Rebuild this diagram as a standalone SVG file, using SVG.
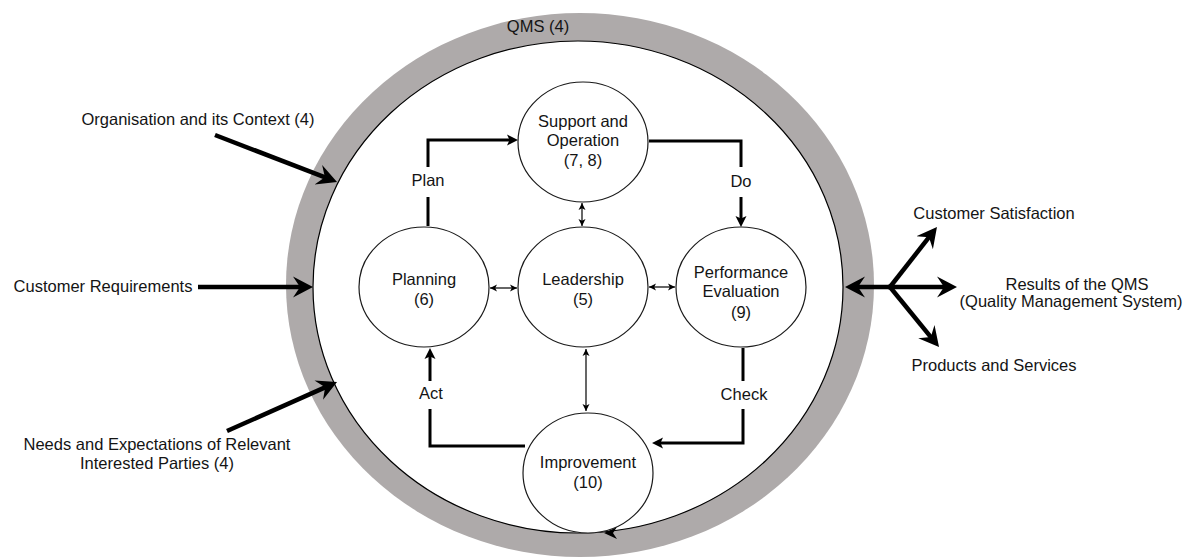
<svg xmlns="http://www.w3.org/2000/svg" width="1191" height="559" viewBox="0 0 1191 559">
  <style>
    text { font-family: "Liberation Sans", Arial, sans-serif; font-size: 16.5px; fill: #141414; text-anchor: middle; }
    .node { fill: #ffffff; stroke: #1a1a1a; stroke-width: 1.2; }
    .thick { fill: none; stroke: #000; stroke-width: 4.5; }
    .pdca { fill: none; stroke: #000; stroke-width: 3; }
    .thin { fill: none; stroke: #000; stroke-width: 1.2; }
  </style>
  <defs>
    <marker id="bigHead" markerUnits="userSpaceOnUse" markerWidth="22" markerHeight="24" refX="10" refY="12" orient="auto">
      <path d="M20,12 L0,1.5 L7,12 L0,22.5 Z" fill="#000"/>
    </marker>
    <marker id="midHead" markerUnits="userSpaceOnUse" markerWidth="14" markerHeight="12" refX="6" refY="6" orient="auto">
      <path d="M12,6 L1,0.5 L3.5,6 L1,11.5 Z" fill="#000"/>
    </marker>
    <marker id="smallHead" markerUnits="userSpaceOnUse" markerWidth="9" markerHeight="8" refX="7" refY="4" orient="auto-start-reverse">
      <path d="M7,4 L0,0.5 L1.8,4 L0,7.5 Z" fill="#000"/>
    </marker>
  </defs>

  <!-- QMS boundary ring -->
  <g id="qms">
    <ellipse cx="580" cy="285" rx="294" ry="272" fill="#aeaaaa"/>
    <ellipse cx="578" cy="287" rx="265" ry="246" fill="#ffffff" stroke="#000" stroke-width="1.2"/>
    <polygon points="604,533 617,527 613,533 617,539" fill="#000"/>
    <text x="538" y="32">QMS (4)</text>
  </g>

  <!-- Inputs and outputs -->
  <g id="input-context"><text x="198" y="125">Organisation and its Context (4)</text></g>
  <g id="input-requirements"><text x="103" y="292">Customer Requirements</text></g>
  <g id="input-parties">
    <text x="157" y="450">Needs and Expectations of Relevant</text>
    <text x="157" y="469">Interested Parties (4)</text>
  </g>
  <g id="output-satisfaction"><text x="994" y="219">Customer Satisfaction</text></g>
  <g id="output-results">
    <text x="1077" y="290">Results of the QMS</text>
    <text x="1071" y="307">(Quality Management System)</text>
  </g>
  <g id="output-products"><text x="994" y="371">Products and Services</text></g>

  <!-- PDCA nodes -->
  <g id="support">
    <ellipse class="node" cx="583" cy="142" rx="65" ry="60"/>
    <text x="583" y="127">Support and</text>
    <text x="583" y="146">Operation</text>
    <text x="583" y="166">(7, 8)</text>
  </g>
  <g id="planning">
    <ellipse class="node" cx="424" cy="287" rx="65" ry="60"/>
    <text x="424" y="285">Planning</text>
    <text x="424" y="305">(6)</text>
  </g>
  <g id="leadership">
    <ellipse class="node" cx="583" cy="287" rx="65" ry="60"/>
    <text x="583" y="285">Leadership</text>
    <text x="583" y="305">(5)</text>
  </g>
  <g id="performance">
    <ellipse class="node" cx="741" cy="287" rx="65" ry="60"/>
    <text x="741" y="278">Performance</text>
    <text x="741" y="297">Evaluation</text>
    <text x="741" y="318">(9)</text>
  </g>
  <g id="improvement">
    <ellipse class="node" cx="588" cy="473" rx="65" ry="60"/>
    <text x="588" y="468">Improvement</text>
    <text x="588" y="488">(10)</text>
  </g>

  <!-- Connectors -->
  <g id="connectors">
    <path class="thick" d="M215,135 L327.7,178.4" marker-end="url(#bigHead)"/>
    <path class="thick" d="M198,287 L303,287" marker-end="url(#bigHead)"/>
    <path class="thick" d="M227,431 L327.9,386.1" marker-end="url(#bigHead)"/>
    <path class="thick" d="M890,287 L855,287" marker-end="url(#bigHead)"/>
    <path class="thick" d="M888,287 L947,287" marker-end="url(#bigHead)"/>
    <path class="thick" d="M890,287 L930.8,234.9" marker-end="url(#bigHead)"/>
    <path class="thick" d="M890,287 L932.7,339.3" marker-end="url(#bigHead)"/>

    <path class="pdca" d="M428,226 V197"/>
    <path class="pdca" d="M428,167 V140 H512" marker-end="url(#midHead)"/>
    <path class="pdca" d="M649,141 H741 V167"/>
    <path class="pdca" d="M741,197 V221" marker-end="url(#midHead)"/>
    <path class="pdca" d="M743,348 V381"/>
    <path class="pdca" d="M743,409 V443 H658" marker-end="url(#midHead)"/>
    <path class="pdca" d="M525,446 H430 V409"/>
    <path class="pdca" d="M430,381 V354" marker-end="url(#midHead)"/>

    <path class="thin" d="M582,203 V226" marker-start="url(#smallHead)" marker-end="url(#smallHead)"/>
    <path class="thin" d="M490,288 H517" marker-start="url(#smallHead)" marker-end="url(#smallHead)"/>
    <path class="thin" d="M649,287 H675" marker-start="url(#smallHead)" marker-end="url(#smallHead)"/>
    <path class="thin" d="M586,349 V411" marker-start="url(#smallHead)" marker-end="url(#smallHead)"/>

    <text x="428" y="186">Plan</text>
    <text x="741" y="187">Do</text>
    <text x="744" y="400">Check</text>
    <text x="431" y="399">Act</text>
  </g>
</svg>
